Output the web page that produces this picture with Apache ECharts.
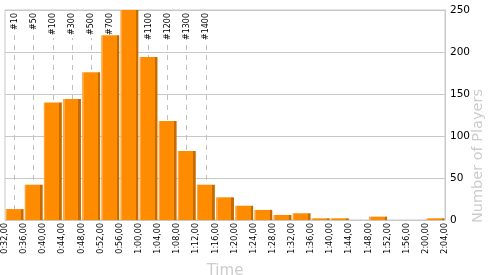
<!DOCTYPE html>
<html><head><meta charset="utf-8">
<script src="https://cdn.jsdelivr.net/npm/echarts@6/dist/echarts.min.js"></script>
<style>html,body{margin:0;padding:0;background:#fff}#c{width:500px;height:275px}</style>
</head><body><div id="c"></div>
<script>
// bin start minutes (each bin 4 minutes wide)
const binStarts = [32,36,40,44,48,52,56,60,64,68,72,76,80,84,88,92,96,100,104,108,112,116,120];
const players   = [13,42,140,144,176,220,250,194,118,82,42,27,17,12,6,8,2,2,0,4,0,0,2];
const binWidth = 4;
const axisMin = 32, axisMax = 124, axisStep = 4;
const yTicks = [0,50,100,150,200,250];
const rankLabels = ['#10','#50','#100','#300','#500','#700','#1100','#1200','#1300','#1400'];
const rankPos    = [34,38,42,46,50,54,62,66,70,74];

const chart = echarts.init(document.getElementById('c'), null, {renderer:'canvas'});
const FONT = 'DejaVu Sans, Verdana, sans-serif';
function fmt(v){const h=Math.floor(v/60), m=v%60; return h+':'+(m<10?'0':'')+m+',00';}

const barColor = new echarts.graphic.LinearGradient(0,0,1,0,[
  {offset:0,color:'#FFA640'},{offset:0.09,color:'#FFA640'},
  {offset:0.09,color:'#FF8C00'},{offset:0.86,color:'#FF8C00'},
  {offset:0.86,color:'#C46C00'},{offset:1,color:'#C46C00'}
]);

chart.setOption({
  animation:false,
  grid:{left:5,right:55,top:10,bottom:55,containLabel:false,outerBoundsMode:'none',
    show:true,borderColor:'#c8c8c8',borderWidth:1,backgroundColor:'transparent'},
  xAxis:{type:'value',min:axisMin,max:axisMax,interval:axisStep,
    name:'Time',nameLocation:'middle',nameGap:44,nameMoveOverlap:false,
    nameTextStyle:{color:'#cccccc',fontSize:15,fontFamily:FONT},
    axisLine:{show:false},axisTick:{show:false},splitLine:{show:false},
    axisLabel:{rotate:90,fontSize:8,color:'#000',fontFamily:FONT,margin:3,formatter:fmt,showMinLabel:true,showMaxLabel:true}},
  yAxis:{type:'value',position:'right',min:0,max:250,interval:50,
    axisLine:{show:true,lineStyle:{color:'#c8c8c8'}},axisTick:{show:false},
    splitLine:{show:true,lineStyle:{color:'#c8c8c8',width:1}},
    axisLabel:{fontSize:10.5,color:'#000',fontFamily:FONT,margin:5,
      formatter:function(v){return yTicks.indexOf(v)>=0?String(v):'';}}},
  graphic:[{type:'text',right:14,top:89,rotation:Math.PI/2,
    style:{text:'Number of Players',fill:'#cccccc',font:'14.5px '+FONT}}],
  series:[
    {type:'line',data:[],z:1,silent:true,
     markLine:{silent:true,symbol:['none','none'],
       lineStyle:{color:'#c0c0c0',type:[5,5],width:1},
       label:{show:true,position:'insideEnd',color:'#000',fontSize:8,fontFamily:FONT,
         backgroundColor:'#fff',padding:[0,1,0,3],distance:2,
         formatter:function(p){return p.name;}},
       data:rankPos.map((x,i)=>[{name:rankLabels[i],coord:[x,0]},{coord:[x,250]}])}},
    {type:'bar',zlevel:1,z:2,barWidth:18,
     data:binStarts.map((s,i)=>[s+binWidth/2,players[i]]),
     itemStyle:{color:barColor}}
  ]
});
</script></body></html>
